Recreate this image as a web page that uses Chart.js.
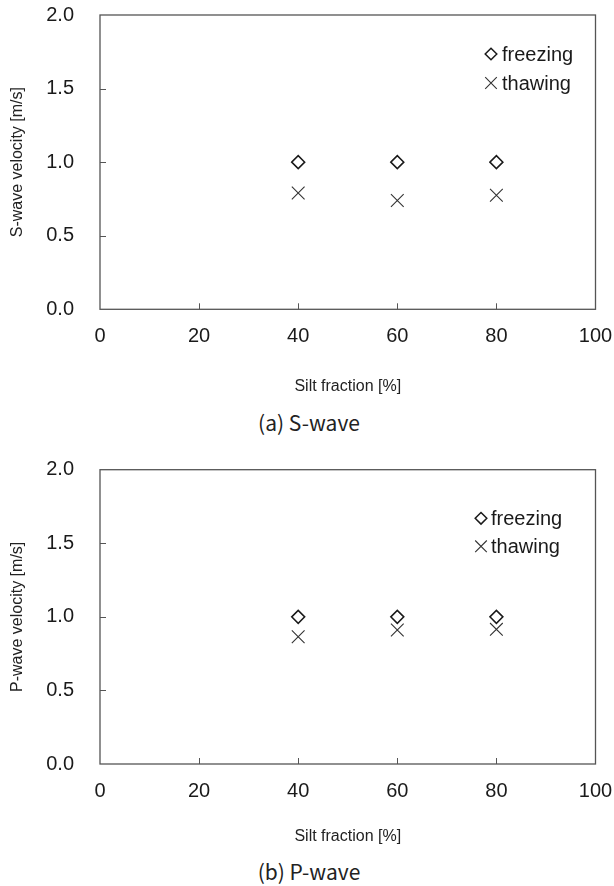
<!DOCTYPE html>
<html>
<head>
<meta charset="utf-8">
<script src="https://cdn.jsdelivr.net/npm/chart.js@4.4.1/dist/chart.umd.min.js"></script>
<style>
  body { margin: 0; background: #fff; }
  #page { position: relative; width: 614px; height: 886px; overflow: hidden; }
  .box { position: absolute; left: 0; width: 614px; height: 400px; }
  .caption {
    position: absolute; left: 2px; width: 614px; text-align: center;
    font-family: "Noto Sans CJK KR", "Noto Sans", sans-serif; font-size: 21px;
    line-height: 21px; color: #222;
  }
</style>
</head>
<body>
<div id="page">
  <div class="box" style="top:0px"><canvas id="sChart" width="614" height="400"></canvas></div>
  <div class="caption" style="top:412px">(a) S-wave</div>
  <div class="box" style="top:450px"><canvas id="pChart" width="614" height="400"></canvas></div>
  <div class="caption" style="top:861px">(b) P-wave</div>
</div>
<script>
// data
const siltFraction = [40, 60, 80];
const sFreezing = [1.0, 1.0, 1.0];
const sThawing = [0.79, 0.74, 0.775];
const pFreezing = [1.0, 1.0, 1.0];
const pThawing = [0.865, 0.91, 0.915];
const seriesNames = ['freezing', 'thawing'];
const xTickValues = [0, 20, 40, 60, 80, 100];
const yTickValues = [0.0, 0.5, 1.0, 1.5, 2.0];

const tickFont = { family: 'Liberation Sans, Arial, sans-serif', size: 20 };
const titleFont = { family: 'Liberation Sans, Arial, sans-serif', size: 16 };

function points(xs, ys) {
  return xs.map((x, i) => ({ x: x, y: ys[i] }));
}

// box round the plot + short inside tick marks
const framePlugin = {
  id: 'frame',
  beforeDatasetsDraw(chart) {
    const ctx = chart.ctx;
    const a = chart.chartArea;
    const xs = chart.scales.x, ys = chart.scales.y;
    ctx.save();
    ctx.strokeStyle = '#555';
    ctx.lineWidth = 1.3;
    ctx.strokeRect(a.left, a.top, a.right - a.left, a.bottom - a.top);
    ctx.lineWidth = 1;
    ctx.beginPath();
    xs.ticks.forEach(t => {
      if (t.value <= xs.min || t.value >= xs.max) return;
      const px = Math.round(xs.getPixelForValue(t.value)) + 0.5;
      ctx.moveTo(px, a.bottom);
      ctx.lineTo(px, a.bottom - 6);
    });
    ys.ticks.forEach(t => {
      if (t.value <= ys.min || t.value >= ys.max) return;
      const py = Math.round(ys.getPixelForValue(t.value)) + 0.5;
      ctx.moveTo(a.left, py);
      ctx.lineTo(a.left + 6, py);
    });
    ctx.stroke();
    ctx.restore();
  }
};

// legend drawn inside the plot, top right
const legendPlugin = {
  id: 'boxLegend',
  afterDraw(chart, args, opts) {
    const ctx = chart.ctx;
    ctx.save();
    ctx.font = '20px "Liberation Sans", Arial, sans-serif';
    ctx.fillStyle = '#1a1a1a';
    ctx.textBaseline = 'middle';
    chart.data.datasets.forEach((ds, i) => {
      const mx = opts.x, my = opts.y + i * opts.gap;
      const r = 5.8;
      ctx.beginPath();
      if (ds.pointStyle === 'rectRot') {
        ctx.moveTo(mx, my - r);
        ctx.lineTo(mx + r, my);
        ctx.lineTo(mx, my + r);
        ctx.lineTo(mx - r, my);
        ctx.closePath();
        ctx.lineWidth = 1.5;
      } else {
        ctx.moveTo(mx - r, my - r);
        ctx.lineTo(mx + r, my + r);
        ctx.moveTo(mx + r, my - r);
        ctx.lineTo(mx - r, my + r);
        ctx.lineWidth = 1.1;
      }
      ctx.strokeStyle = ds.borderColor;
      ctx.stroke();
      ctx.fillText(ds.label, opts.textX, my + 1);
    });
    ctx.restore();
  }
};

// plot box: left 100, right 595.5 on a 614 wide canvas
function makeChart(id, yTitle, freezing, thawing, plotTop, plotBottom, legend) {
  const H = 400, W = 614, plotLeft = 100, plotRight = 595.5;
  return new Chart(document.getElementById(id), {
    type: 'scatter',
    data: {
      datasets: [
        {
          label: seriesNames[0],
          data: points(siltFraction, freezing),
          pointStyle: 'rectRot',
          pointRadius: 6.5,
          pointBorderWidth: 1.5,
          borderColor: '#1a1a1a',
          backgroundColor: 'rgba(255,255,255,0)'
        },
        {
          label: seriesNames[1],
          data: points(siltFraction, thawing),
          pointStyle: 'crossRot',
          pointRadius: 9,
          pointBorderWidth: 1.1,
          borderColor: '#333',
          backgroundColor: 'rgba(255,255,255,0)'
        }
      ]
    },
    options: {
      responsive: false,
      animation: false,
      events: [],
      layout: { padding: 0 },
      plugins: {
        legend: { display: false },
        tooltip: { enabled: false },
        boxLegend: legend
      },
      scales: {
        x: {
          type: 'linear',
          min: 0, max: 100,
          afterBuildTicks: s => { s.ticks = xTickValues.map(v => ({ value: v })); },
          afterFit: s => {
            s.height = H - plotBottom;
            s.paddingLeft = 0;
            s.paddingRight = W - plotRight;
          },
          grid: { display: false },
          border: { display: false },
          ticks: { font: tickFont, color: '#1a1a1a', padding: 7, maxRotation: 0 },
          title: { display: true, text: 'Silt fraction [%]', font: titleFont, color: '#222', padding: { top: 0, bottom: 4 } }
        },
        y: {
          type: 'linear',
          min: 0, max: 2,
          afterBuildTicks: s => { s.ticks = yTickValues.map(v => ({ value: v })); },
          afterFit: s => {
            s.width = plotLeft;
            s.paddingTop = plotTop;
            s.paddingBottom = 0;
          },
          grid: { display: false },
          border: { display: false },
          ticks: { font: tickFont, color: '#1a1a1a', padding: 18, callback: v => v.toFixed(1) },
          title: { display: true, text: yTitle, font: titleFont, color: '#222', padding: { top: 7.5, bottom: 0 } }
        }
      }
    },
    plugins: [framePlugin, legendPlugin]
  });
}

makeChart('sChart', 'S-wave velocity [m/s]', sFreezing, sThawing, 15, 309.3,
  { x: 491, y: 54, gap: 29, textX: 502 });
makeChart('pChart', 'P-wave velocity [m/s]', pFreezing, pThawing, 19.7, 314,
  { x: 481, y: 68.3, gap: 28, textX: 491 });
</script>
</body>
</html>
